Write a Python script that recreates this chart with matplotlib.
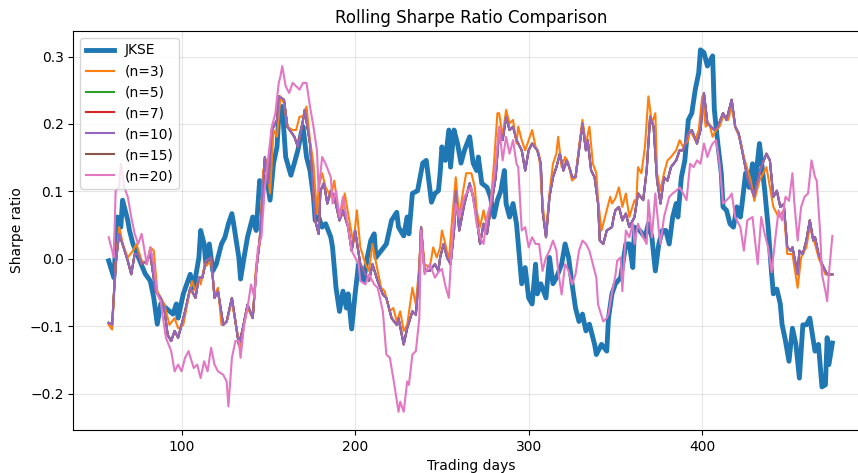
import matplotlib.pyplot as plt

# values (trading day, rolling sharpe)
jkse_days = [58, 61, 63, 65, 66, 69, 70, 72, 76, 79, 82, 84, 86, 88, 91, 95, 97, 98,
             101, 105, 107, 110, 111, 113, 114, 116, 118, 120, 123, 125, 127, 129, 130,
             133, 134, 136, 138, 141, 143, 145, 147, 149, 151, 153, 155, 156, 158, 160,
             163, 165, 167, 169, 170, 172, 174, 176, 177, 179, 181, 183, 186, 187, 189,
             191, 193, 195, 196, 198, 200, 202, 203, 205, 207, 209, 211, 212, 215, 218,
             221, 224, 225, 228, 230, 231, 233, 236, 239, 241, 244, 246, 248, 249, 250,
             252, 254, 255, 257, 259, 261, 263, 266, 268, 270, 271, 273, 276, 278, 280,
             282, 284, 286, 287, 289, 291, 293, 294, 296, 298, 300, 302, 304, 305, 307,
             310, 312, 314, 316, 319, 321, 323, 325, 327, 329, 331, 333, 335, 338, 339,
             342, 345, 346, 348, 350, 353, 356, 358, 360, 361, 364, 367, 369, 371, 373,
             375, 377, 379, 381, 383, 385, 386, 388, 390, 392, 394, 396, 398, 399, 401,
             403, 405, 406, 407, 409, 411, 412, 414, 416, 418, 420, 422, 423, 425, 427,
             429, 430, 433, 436, 438, 440, 441, 443, 445, 446, 448, 450, 452, 454, 456,
             458, 460, 462, 465, 467, 469, 471, 472, 473, 475]
jkse = [-0.003, -0.028, 0.062, 0.047, 0.087, 0.057, 0.042, 0.022, -0.003, -0.022, -0.033,
        -0.058, -0.097, -0.067, -0.073, -0.082, -0.067, -0.088, -0.052, -0.023, -0.043,
        0.002, 0.042, 0.022, -0.008, 0.022, -0.018, -0.008, 0.022, 0.032, 0.052, 0.067,
        0.052, 0.002, -0.030, 0.002, 0.032, 0.062, 0.042, 0.116, 0.106, 0.121, 0.087,
        0.142, 0.166, 0.211, 0.226, 0.151, 0.124, 0.142, 0.161, 0.187, 0.196, 0.151,
        0.131, 0.092, 0.057, 0.062, 0.047, 0.052, 0.032, 0.017, -0.043, -0.078, -0.048,
        -0.073, -0.052, -0.104, -0.052, -0.008, -0.018, -0.033, 0.002, 0.027, 0.037,
        0.002, 0.012, 0.022, 0.057, 0.069, 0.047, 0.034, 0.062, 0.037, 0.097, 0.101,
        0.142, 0.146, 0.084, 0.097, 0.101, 0.127, 0.166, 0.146, 0.191, 0.136, 0.191,
        0.171, 0.142, 0.161, 0.181, 0.142, 0.131, 0.151, 0.112, 0.106, 0.092, 0.062,
        0.087, 0.101, 0.131, 0.082, 0.062, 0.082, 0.052, 0.022, -0.037, -0.013, -0.058,
        -0.067, -0.008, -0.052, -0.037, -0.058, 0.002, -0.037, -0.028, -0.008, 0.022,
        0.002, -0.037, -0.073, -0.093, -0.082, -0.107, -0.097, -0.127, -0.142, -0.127,
        -0.137, -0.088, -0.052, -0.037, -0.028, 0.022, 0.022, -0.013, 0.047, 0.042,
        0.032, 0.052, 0.032, -0.018, 0.022, 0.042, 0.042, 0.022, 0.062, 0.082, 0.062,
        0.121, 0.146, 0.206, 0.216, 0.251, 0.276, 0.310, 0.306, 0.286, 0.296, 0.301,
        0.221, 0.171, 0.127, 0.077, 0.072, 0.052, 0.047, 0.077, 0.062, 0.082, 0.127,
        0.106, 0.141, 0.101, 0.171, 0.102, 0.047, -0.022, -0.052, -0.045, -0.067,
        -0.097, -0.122, -0.152, -0.103, -0.127, -0.177, -0.098, -0.098, -0.088, -0.137,
        -0.127, -0.190, -0.187, -0.117, -0.157, -0.125]

n3_days = [58, 60, 62, 64, 65, 66, 69, 72, 74, 77, 80, 82, 84, 86, 88, 90, 93, 96, 98,
           101, 104, 106, 108, 110, 111, 113, 115, 117, 119, 121, 123, 126, 129, 131,
           133, 134, 136, 138, 141, 143, 145, 147, 149, 151, 153, 155, 157, 159, 161,
           164, 166, 168, 170, 172, 174, 176, 178, 179, 181, 183, 186, 188, 190, 192,
           194, 197, 199, 201, 203, 206, 208, 210, 213, 215, 217, 220, 222, 224, 226,
           228, 230, 233, 235, 237, 238, 240, 243, 245, 247, 249, 250, 252, 254, 256,
           258, 260, 262, 264, 267, 269, 270, 272, 274, 276, 278, 280, 282, 283, 285,
           287, 289, 291, 293, 294, 296, 298, 300, 302, 304, 306, 308, 310, 312, 314,
           316, 317, 319, 321, 323, 325, 327, 329, 331, 333, 335, 337, 339, 340, 342,
           344, 346, 347, 348, 350, 352, 354, 356, 358, 361, 362, 363, 365, 367, 369,
           371, 373, 374, 376, 378, 380, 382, 385, 387, 389, 392, 393, 396, 398, 400,
           402, 404, 406, 408, 410, 412, 415, 417, 419, 422, 424, 428, 430, 433, 437,
           441, 444, 447, 449, 452, 455, 457, 460, 462, 465, 467, 471, 475]
n3 = [-0.098, -0.105, -0.008, 0.047, 0.037, 0.022, 0.002, 0.012, 0.022, -0.003, -0.008,
      0.017, 0.012, -0.048, -0.058, -0.067, -0.098, -0.088, -0.103, -0.098, -0.058,
      -0.033, -0.048, -0.028, -0.038, -0.013, -0.008, -0.003, -0.053, -0.043, -0.098,
      -0.093, -0.063, -0.093, -0.122, -0.137, -0.097, -0.073, -0.088, -0.008, 0.022,
      0.131, 0.146, 0.097, 0.191, 0.181, 0.241, 0.231, 0.196, 0.191, 0.191, 0.211,
      0.211, 0.226, 0.176, 0.141, 0.067, 0.106, 0.127, 0.106, 0.092, 0.116, 0.077,
      0.062, 0.097, 0.052, 0.022, 0.072, 0.017, -0.008, -0.018, 0.022, -0.018, -0.043,
      -0.048, -0.078, -0.073, -0.093, -0.078, -0.107, -0.098, -0.043, -0.068, -0.008,
      0.047, -0.008, -0.013, 0.017, 0.002, 0.017, 0.042, 0.022, -0.003, 0.062, 0.121,
      0.062, 0.097, 0.127, 0.127, 0.106, 0.072, 0.047, 0.072, 0.047, 0.077, 0.141,
      0.216, 0.216, 0.181, 0.221, 0.201, 0.206, 0.171, 0.196, 0.176, 0.161, 0.176,
      0.191, 0.166, 0.156, 0.082, 0.037, 0.097, 0.141, 0.156, 0.181, 0.136, 0.151,
      0.141, 0.116, 0.121, 0.166, 0.206, 0.171, 0.196, 0.141, 0.127, 0.087, 0.042,
      0.062, 0.082, 0.092, 0.082, 0.090, 0.106, 0.077, 0.097, 0.062, 0.087, 0.082,
      0.136, 0.127, 0.166, 0.241, 0.201, 0.216, 0.127, 0.101, 0.127, 0.146, 0.151,
      0.161, 0.176, 0.166, 0.176, 0.191, 0.176, 0.191, 0.241, 0.196, 0.201, 0.181,
      0.191, 0.196, 0.211, 0.206, 0.226, 0.196, 0.176, 0.151, 0.116, 0.086, 0.116,
      0.136, 0.077, 0.062, 0.072, 0.007, 0.007, -0.043, 0.002, 0.017, 0.047, 0.022,
      0.002, -0.023, -0.023]

n10_days = [58, 60, 62, 64, 66, 69, 71, 73, 75, 77, 80, 82, 85, 88, 90, 92, 94, 96, 98,
            100, 102, 105, 108, 110, 112, 114, 117, 119, 121, 124, 126, 129, 131, 133,
            135, 138, 141, 143, 145, 148, 150, 152, 155, 156, 159, 161, 165, 167, 170,
            171, 174, 177, 179, 180, 182, 184, 186, 188, 191, 193, 196, 198, 200, 203,
            205, 208, 210, 213, 216, 218, 221, 224, 225, 228, 230, 233, 235, 237, 238,
            240, 243, 246, 248, 249, 251, 253, 255, 257, 258, 260, 263, 266, 268, 270,
            272, 274, 276, 278, 281, 283, 285, 287, 289, 291, 293, 296, 298, 300, 302,
            305, 307, 308, 310, 312, 314, 316, 318, 320, 322, 324, 325, 327, 329, 331,
            333, 334, 336, 338, 340, 341, 343, 345, 348, 349, 350, 352, 354, 356, 358,
            361, 363, 366, 368, 370, 372, 374, 376, 378, 380, 382, 385, 387, 389, 392,
            394, 397, 399, 401, 403, 405, 407, 409, 412, 414, 417, 419, 421, 423, 426,
            430, 431, 434, 437, 439, 441, 443, 445, 447, 449, 451, 452, 455, 456, 458,
            460, 462, 464, 465, 467, 469, 472, 475]
n10 = [-0.095, -0.098, -0.008, 0.037, 0.022, -0.003, -0.023, 0.007, 0.007, -0.008,
       -0.003, 0.007, -0.048, -0.058, -0.073, -0.113, -0.122, -0.107, -0.117, -0.098,
       -0.078, -0.043, -0.058, -0.028, -0.028, -0.003, 0.002, -0.058, -0.048, -0.098,
       -0.093, -0.058, -0.093, -0.127, -0.107, -0.068, -0.088, -0.018, 0.027, 0.151,
       0.112, 0.191, 0.206, 0.241, 0.236, 0.196, 0.181, 0.166, 0.206, 0.221, 0.171,
       0.057, 0.037, 0.101, 0.112, 0.082, 0.101, 0.092, 0.057, 0.072, 0.047, 0.012,
       0.042, -0.008, -0.018, -0.033, -0.008, -0.033, -0.053, -0.058, -0.088, -0.098,
       -0.088, -0.127, -0.103, -0.078, -0.083, -0.018, 0.047, -0.018, -0.018, -0.008,
       -0.018, 0.002, 0.022, 0.002, -0.008, 0.042, 0.101, 0.042, 0.082, 0.112, 0.092,
       0.062, 0.022, 0.052, 0.037, 0.072, 0.121, 0.191, 0.176, 0.211, 0.191, 0.196,
       0.176, 0.161, 0.131, 0.161, 0.171, 0.161, 0.141, 0.072, 0.032, 0.092, 0.121,
       0.136, 0.156, 0.131, 0.146, 0.131, 0.121, 0.121, 0.161, 0.201, 0.161, 0.176,
       0.131, 0.121, 0.082, 0.027, 0.022, 0.042, 0.047, 0.062, 0.072, 0.077, 0.057,
       0.067, 0.047, 0.062, 0.097, 0.087, 0.131, 0.211, 0.196, 0.116, 0.082, 0.121,
       0.116, 0.136, 0.146, 0.161, 0.161, 0.186, 0.191, 0.171, 0.191, 0.246, 0.201,
       0.196, 0.191, 0.196, 0.216, 0.206, 0.236, 0.196, 0.186, 0.161, 0.121, 0.092,
       0.106, 0.136, 0.156, 0.146, 0.092, 0.101, 0.077, 0.081, 0.017, 0.012, 0.017,
       -0.023, 0.012, 0.007, 0.027, 0.057, 0.027, 0.032, 0.007, -0.008, -0.023, -0.023]

n20_days = [58, 61, 62, 64, 65, 67, 69, 71, 73, 75, 77, 80, 82, 84, 86, 88, 89, 91, 94,
            96, 98, 100, 102, 104, 107, 109, 111, 113, 115, 117, 119, 121, 124, 126, 127,
            129, 131, 133, 134, 136, 138, 140, 142, 144, 146, 148, 150, 152, 154, 156,
            157, 158, 160, 162, 164, 166, 168, 170, 172, 174, 176, 178, 179, 181, 183,
            186, 187, 189, 191, 193, 195, 198, 200, 202, 203, 206, 208, 211, 213, 216,
            218, 220, 222, 225, 226, 228, 230, 231, 233, 235, 237, 238, 240, 243, 246,
            248, 250, 252, 254, 256, 258, 260, 263, 265, 267, 269, 270, 272, 274, 276,
            278, 281, 283, 285, 287, 289, 291, 293, 294, 296, 298, 300, 302, 304, 306,
            308, 310, 312, 314, 316, 317, 319, 321, 323, 325, 327, 329, 331, 333, 335,
            337, 339, 340, 343, 345, 346, 348, 350, 351, 353, 354, 356, 358, 360, 361,
            363, 366, 368, 369, 371, 373, 375, 376, 378, 381, 383, 385, 387, 389, 391,
            393, 395, 397, 399, 401, 403, 405, 406, 408, 410, 412, 414, 416, 417, 419,
            422, 424, 426, 429, 430, 432, 434, 436, 438, 440, 442, 444, 446, 448, 450,
            452, 453, 455, 457, 459, 461, 463, 465, 466, 468, 469, 471, 472, 473, 475]
n20 = [0.032, 0.002, 0.101, 0.106, 0.141, 0.106, 0.092, 0.062, 0.037, 0.022, 0.037,
       -0.008, 0.017, -0.008, -0.053, -0.063, -0.083, -0.117, -0.137, -0.167, -0.157,
       -0.167, -0.147, -0.137, -0.162, -0.157, -0.177, -0.152, -0.167, -0.132, -0.157,
       -0.167, -0.172, -0.182, -0.219, -0.147, -0.122, -0.122, -0.147, -0.098, -0.073,
       -0.038, -0.058, 0.017, 0.032, 0.106, 0.151, 0.196, 0.215, 0.261, 0.271, 0.286,
       0.256, 0.246, 0.261, 0.256, 0.251, 0.261, 0.261, 0.226, 0.196, 0.161, 0.101,
       0.151, 0.141, 0.121, 0.082, 0.101, 0.062, 0.092, 0.062, 0.012, 0.002, -0.008,
       -0.033, -0.038, -0.023, -0.038, -0.043, -0.078, -0.142, -0.147, -0.177, -0.227,
       -0.212, -0.227, -0.182, -0.187, -0.142, -0.137, -0.088, 0.042, -0.023, -0.008,
       -0.028, -0.020, -0.015, -0.040, -0.058, 0.032, 0.082, 0.062, 0.092, 0.101, 0.106,
       0.072, 0.052, 0.032, 0.022, 0.062, 0.082, 0.141, 0.196, 0.146, 0.181, 0.156,
       0.176, 0.141, 0.136, 0.042, 0.047, 0.017, 0.032, 0.022, 0.022, -0.018, 0.002,
       0.012, 0.027, 0.012, -0.018, -0.053, -0.008, -0.018, -0.038, -0.023, 0.012,
       0.027, 0.022, 0.012, -0.008, -0.028, -0.068, -0.093, -0.088, -0.082, -0.050,
       -0.025, -0.003, 0.002, -0.048, 0.042, 0.032, 0.052, 0.022, 0.052, 0.032, 0.022,
       0.087, 0.032, 0.097, 0.042, 0.022, 0.062, 0.092, 0.097, 0.101, 0.106, 0.097,
       0.087, 0.141, 0.136, 0.146, 0.141, 0.171, 0.151, 0.166, 0.171, 0.176, 0.141,
       0.082, 0.087, 0.092, 0.097, 0.062, 0.047, 0.012, 0.057, 0.062, 0.037, -0.008,
       0.062, 0.037, 0.017, -0.020, 0.027, 0.072, 0.057, 0.092, 0.086, 0.127, 0.086,
       0.027, 0.077, 0.092, 0.097, 0.146, 0.121, 0.116, 0.037, -0.023, -0.048, -0.063,
       -0.023, 0.034]

windows = [3, 5, 7, 10, 15, 20]
# n=5, 7 and 15 sit right under the n=10 line in the reference
series = {3: (n3_days, n3), 5: (n10_days, n10), 7: (n10_days, n10),
          10: (n10_days, n10), 15: (n10_days, n10), 20: (n20_days, n20)}
colors = {3: 'C1', 5: 'C2', 7: 'C3', 10: 'C4', 15: 'C5', 20: 'C6'}

fig = plt.figure(figsize=(8.58, 4.73), dpi=100)
ax = fig.add_axes([0.0854, 0.0909, 0.928, 0.8436])

ax.plot(jkse_days, jkse, color='C0', lw=3.5, label='JKSE', zorder=2)
for n in windows:
    d, v = series[n]
    z = 2.1 if n in (3, 10, 20) else 2.05
    ax.plot(d, v, color=colors[n], lw=1.5, label=f'(n={n})', zorder=z)

ax.set_xlim(37.6, 496.4)
ax.set_ylim(-0.254, 0.338)
ax.set_title('Rolling Sharpe Ratio Comparison')
ax.set_xlabel('Trading days')
ax.set_ylabel('Sharpe ratio')
ax.grid(alpha=0.3)
ax.legend(loc='upper left')

fig.savefig('out.png', dpi=100)
